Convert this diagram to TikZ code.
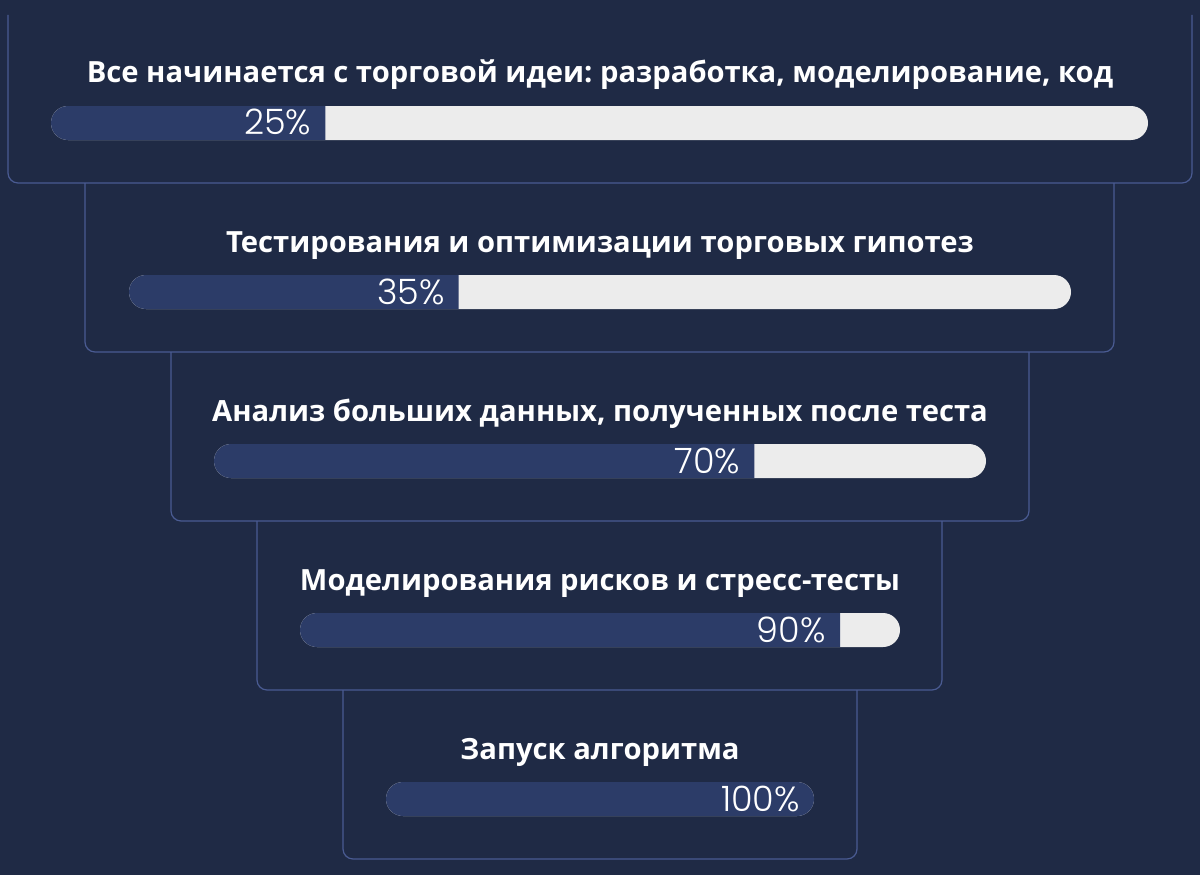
\documentclass[tikz,border=0pt]{standalone}
\usepackage{fontspec}
\setmainfont{Open Sans}[BoldFont={Open Sans Bold}]
\newfontfamily\pctfont{Poppins Light}
\frenchspacing
\definecolor{bg}{HTML}{1F2A45}
\definecolor{edge}{HTML}{4A5B92}
\definecolor{bardark}{HTML}{2C3C68}
\definecolor{barlight}{HTML}{ECECEC}
\tikzset{
  boxline/.style={draw=edge, line width=1.2pt, rounded corners=10pt},
  titletext/.style={text=white, font=\bfseries\fontsize{29.2}{33}\selectfont, inner sep=0pt, anchor=base},
  pcttext/.style={text=white, font=\pctfont\fontsize{35}{40}\selectfont, inner sep=0pt, anchor=base east},
}
\begin{document}
\begin{tikzpicture}[x=1pt,y=-1pt]
\fill[bg] (0,0) rectangle (1200,875);
\useasboundingbox (0,0) rectangle (1200,875);
\foreach \i/\L/\R/\T/\bl/\br/\p/\txt in {
  1/8/1192/15/51/1148/25/{Все начинается с торговой идеи: разработка, моделирование, код},
  2/85/1114/183/129/1071/35/{Тестирования и оптимизации торговых гипотез},
  3/171/1029/352/214/986/70/{Анализ больших данных, полученных после теста},
  4/257/942/521/300/900/90/{Моделирования рисков и стресс-тесты},
  5/343/857/690/386/814/100/{Запуск алгоритма}}{
  \pgfmathsetmacro{\off}{169*(\i-1)}
  \pgfmathsetmacro{\B}{183+\off}
  \pgfmathsetmacro{\bt}{106+\off}
  \pgfmathsetmacro{\bb}{140+\off}
  \pgfmathsetmacro{\sp}{\bl+\p/100*(\br-\bl)}
  \pgfmathsetmacro{\blr}{\bl+17}
  \pgfmathsetmacro{\brr}{\br-17}
  % box outline (open at the top)
  \draw[boxline] (\L,\T) -- (\L,\B) -- (\R,\B) -- (\R,\T);
  % light track
  \fill[barlight] (\blr,\bt) -- (\brr,\bt) arc (90:-90:17pt) -- (\blr,\bb) arc (270:90:17pt) -- cycle;
  % dark progress
  \ifnum\p=100
    \fill[bardark] (\blr,\bt) -- (\brr,\bt) arc (90:-90:17pt) -- (\blr,\bb) arc (270:90:17pt) -- cycle;
  \else
    \fill[bardark] (\sp,\bt) -- (\blr,\bt) arc (90:270:17pt) -- (\sp,\bb) -- cycle;
  \fi
  \node[titletext] (title\i) at (600,83+\off) {\txt};
  \node[pcttext] (pct\i) at (\sp-14,135+\off) {\p\%};
}
\end{tikzpicture}
\end{document}
